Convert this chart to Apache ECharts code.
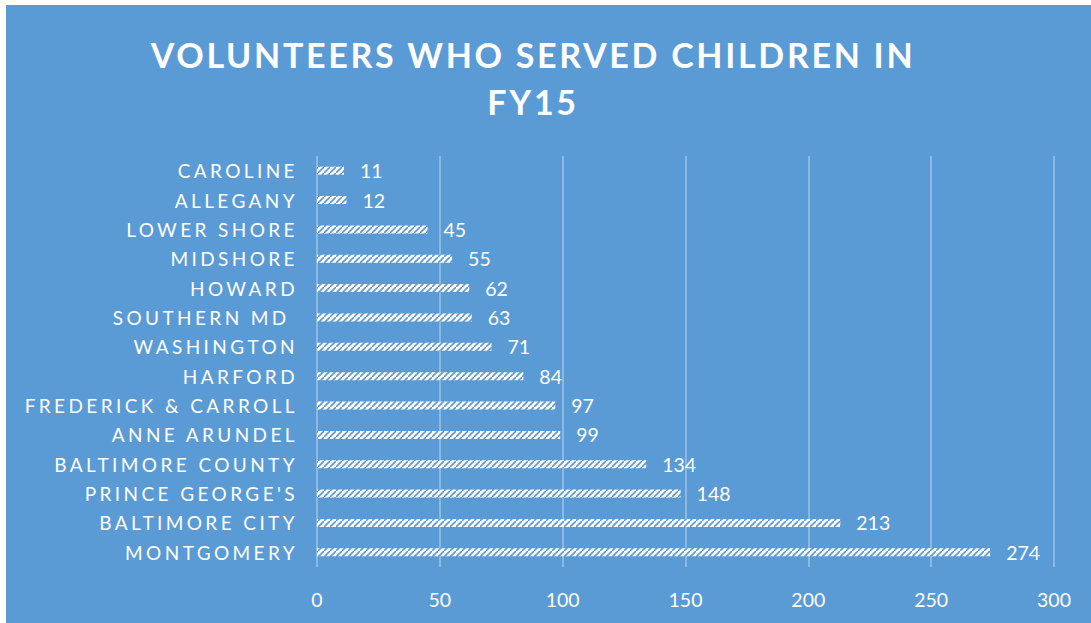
<!DOCTYPE html>
<html>
<head>
<meta charset="utf-8">
<script src="https://cdn.jsdelivr.net/npm/echarts@6/dist/echarts.min.js"></script>
<style>
html,body{margin:0;padding:0;background:#fff;width:1091px;height:623px;overflow:hidden;}
#wrap{position:absolute;left:6px;top:5px;width:1085px;height:618px;background:#5B9BD5;}
#chart{width:1085px;height:618px;}
text[style*="34px"]{letter-spacing:2.7px;}
text[style*="19px"]{letter-spacing:3.4px;}
</style>
</head>
<body>
<div id="wrap"><div id="chart"></div></div>
<script>
const categories = ['CAROLINE','ALLEGANY','LOWER SHORE','MIDSHORE','HOWARD','SOUTHERN MD ','WASHINGTON','HARFORD','FREDERICK & CARROLL','ANNE ARUNDEL','BALTIMORE COUNTY',"PRINCE GEORGE'S",'BALTIMORE CITY','MONTGOMERY'];
const volunteers = [11,12,45,55,62,63,71,84,97,99,134,148,213,274];
const xTicks = [0,50,100,150,200,250,300];
const titleLines = ['VOLUNTEERS WHO SERVED CHILDREN IN','FY15'];

// hatch pattern
const cv = document.createElement('canvas');
cv.width = 6; cv.height = 6;
const cx = cv.getContext('2d');
cx.fillStyle = '#ffffff'; cx.fillRect(0,0,6,6);
cx.strokeStyle = '#5B9BD5'; cx.lineWidth = 1.6;
cx.beginPath();
cx.moveTo(-1,7); cx.lineTo(7,-1);
cx.stroke();
const patternUrl = cv.toDataURL();

const chart = echarts.init(document.getElementById('chart'), null, {renderer:'svg'});
chart.setOption({
  backgroundColor: '#5B9BD5',
  animation: false,
  title: {
    text: titleLines.join('\n'),
    left: 527, top: 26, padding: 0, textAlign: 'center',
    textStyle: {color:'#ffffff', fontFamily:'Lato', fontWeight:'bold', fontSize:34, lineHeight:47}
  },
  grid: {left: 311, right: 37, top: 151, bottom: 56, containLabel: false},
  xAxis: {
    type: 'value', min: xTicks[0], max: xTicks[xTicks.length-1], interval: 50,
    axisLine: {show:false}, axisTick: {show:false},
    splitLine: {show:true, lineStyle:{color:'rgba(255,255,255,0.3)', width:2}},
    axisLabel: {color:'#ffffff', fontFamily:'Lato', fontSize:19.5, margin:22,
      formatter: v => xTicks.includes(v) ? String(v) : ''}
  },
  yAxis: {
    type: 'category', data: categories, inverse: true,
    axisLine: {show:false}, axisTick: {show:false},
    axisLabel: {color:'#ffffff', fontFamily:'Lato', fontSize:19, margin:19}
  },
  series: [{
    type: 'bar', data: volunteers, barWidth: 8,
    itemStyle: {color: {image: patternUrl, repeat: 'repeat'}},
    label: {show:true, position:'right', distance:16, color:'#ffffff', fontFamily:'Lato', fontSize:19.5}
  }]
});
</script>
</body>
</html>
